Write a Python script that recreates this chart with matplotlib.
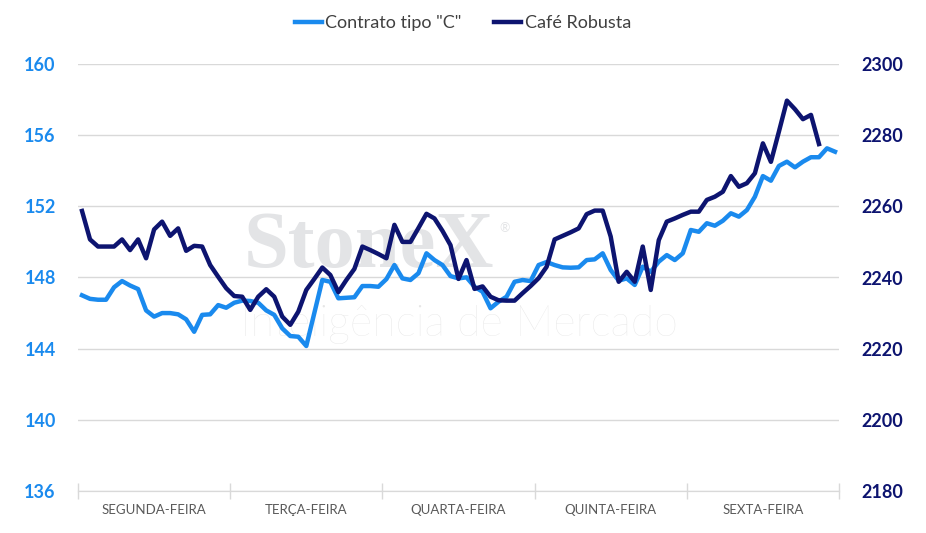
import matplotlib.pyplot as plt
import numpy as np

plt.rcParams['font.family'] = ['Lato', 'DejaVu Sans']

dias = ["SEGUNDA-FEIRA", "TERÇA-FEIRA", "QUARTA-FEIRA", "QUINTA-FEIRA", "SEXTA-FEIRA"]
pontos_por_dia = 19

# Contrato tipo "C" (eixo esquerdo)
contrato_c = [
    147.0, 146.8, 146.75, 146.75, 147.45, 147.8, 147.55, 147.35, 146.15, 145.8,
    146.0, 146.0, 145.93, 145.65, 144.95, 145.9, 145.93, 146.45, 146.3, 146.58,
    146.7, 146.68, 146.58, 146.15, 145.9, 145.14, 144.71, 144.67, 144.15, 146.0,
    147.86, 147.76, 146.83, 146.86, 146.89, 147.52, 147.52, 147.48, 147.91, 148.7,
    147.95, 147.86, 148.24, 149.36, 148.98, 148.7, 148.08, 147.95, 148.01, 147.48,
    147.2, 146.27, 146.64, 146.92, 147.76, 147.86, 147.8, 148.7, 148.87, 148.7,
    148.57, 148.55, 148.57, 148.98, 149.02, 149.36, 148.42, 147.82, 147.95, 147.58,
    148.61, 148.32, 148.89, 149.26, 148.98, 149.36, 150.67, 150.57, 151.05, 150.91,
    151.19, 151.61, 151.42, 151.79, 152.54, 153.7, 153.44, 154.27, 154.51, 154.19,
    154.51, 154.76, 154.76, 155.26, 155.07,
]

# Café Robusta (eixo direito)
robusta = [
    2258.7, 2250.7, 2248.7, 2248.7, 2248.7, 2250.7, 2247.7, 2250.7, 2245.4, 2253.5,
    2255.7, 2251.7, 2253.8, 2247.5, 2248.9, 2248.7, 2243.5, 2240.2, 2237.0, 2234.8,
    2234.6, 2230.9, 2234.6, 2236.7, 2234.6, 2229.0, 2226.7, 2230.4, 2236.5, 2239.6,
    2242.8, 2240.7, 2235.9, 2239.3, 2242.4, 2248.7, 2247.7, 2246.6, 2245.4, 2254.8,
    2250.0, 2250.0, 2253.9, 2257.9, 2256.6, 2253.1, 2249.1, 2239.6, 2244.9, 2236.8,
    2237.5, 2234.6, 2233.6, 2233.5, 2233.5, 2235.6, 2237.6, 2239.8, 2243.0, 2250.7,
    2251.7, 2252.7, 2253.8, 2257.8, 2258.8, 2258.8, 2251.5, 2238.8, 2241.6, 2238.8,
    2248.7, 2236.5, 2250.5, 2255.7, 2256.6, 2257.6, 2258.5, 2258.5, 2261.8, 2262.7,
    2264.1, 2268.5, 2265.5, 2266.5, 2269.3, 2277.7, 2272.5, 2281.0, 2289.7, 2287.3,
    2284.5, 2285.7, 2277.5,
]

azul = '#1A8AEE'
marinho = '#0D1470'
cinza = '#D9D9D9'

fig = plt.figure(figsize=(9.26, 5.33), dpi=100)
ax = fig.add_axes([78 / 926, 1 - 491 / 533, 761 / 926, 427 / 533])
ax2 = ax.twinx()

# marca d'agua
ax.text(0.382, 0.57, "StoneX", transform=ax.transAxes, ha='center', va='center',
        fontsize=58, family='Liberation Serif', weight='bold', color='#E3E4E6', zorder=0)
ax.text(0.56, 0.615, "®", transform=ax.transAxes, ha='center', va='center',
        fontsize=9, color='#E3E4E6', zorder=0)
ax.text(0.5, 0.39, "Inteligência de Mercado", transform=ax.transAxes, ha='center', va='center',
        fontsize=31, weight='light', color='#E6E6E6', zorder=0)

x_c = np.arange(len(contrato_c))
x_r = np.arange(len(robusta))
l1, = ax.plot(x_c, contrato_c, color=azul, lw=3.2, solid_joinstyle='round', label='Contrato tipo "C"', zorder=3)
l2, = ax2.plot(x_r, robusta, color=marinho, lw=3.2, solid_joinstyle='round', label='Café Robusta', zorder=3)

n_total = pontos_por_dia * len(dias)
ax.set_xlim(-0.5, n_total - 0.5)
ax.set_ylim(136, 160)
ax2.set_ylim(2180, 2300)
ax.set_yticks(np.arange(136, 161, 4))
ax2.set_yticks(np.arange(2180, 2301, 20))

ax.grid(axis='y', color=cinza, lw=1)
ax.set_axisbelow(True)

limites = np.arange(len(dias) + 1) * pontos_por_dia - 0.5
centros = np.arange(len(dias)) * pontos_por_dia + (pontos_por_dia - 1) / 2
ax.set_xticks(limites)
ax.set_xticklabels([])
ax.set_xticks(centros, minor=True)
ax.set_xticklabels(dias, minor=True, fontsize=9.5, color='#595959')
ax.tick_params(axis='x', which='major', direction='inout', length=12, color=cinza, width=1)
ax.tick_params(axis='x', which='minor', length=0, pad=9)

ax.tick_params(axis='y', length=0, pad=16, labelsize=13, labelcolor=azul)
ax2.tick_params(axis='y', length=0, pad=16, labelsize=13, labelcolor=marinho)
for t in ax.get_yticklabels():
    t.set_fontweight('bold')
for t in ax2.get_yticklabels():
    t.set_fontweight('bold')

for a in (ax, ax2):
    for s in ['top', 'left', 'right']:
        a.spines[s].set_visible(False)
    a.spines['bottom'].set_color(cinza)

fig.legend(handles=[l1, l2], loc='center', bbox_to_anchor=(0.5, 1 - 23 / 533), ncol=2,
           frameon=False, fontsize=13, handlelength=1.5, handletextpad=0.2,
           columnspacing=1.8, labelcolor='#404040')

fig.savefig('out.png', dpi=100)
